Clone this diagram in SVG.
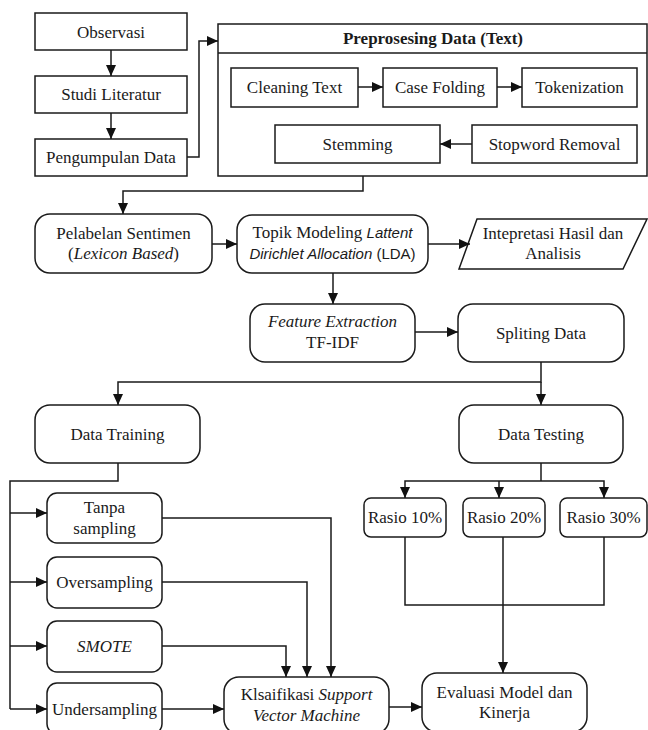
<svg xmlns="http://www.w3.org/2000/svg" width="648" height="730" viewBox="0 0 648 730">
<defs>
<marker id="ah" markerUnits="userSpaceOnUse" markerWidth="12" markerHeight="12" viewBox="0 0 12 12" refX="11" refY="6" orient="auto">
<path d="M0,1 L11,6 L0,11 Z" fill="#111"/>
</marker>
</defs>
<style>
.b{fill:#fff;stroke:#1a1a1a;stroke-width:1.5}
.t{font-family:"Liberation Serif","Times New Roman",serif;font-size:17px;fill:#1a1a1a;text-anchor:middle}
.i{font-style:italic}
.s{font-family:"Liberation Sans",Arial,sans-serif;font-size:15px}
.c{fill:none;stroke:#1a1a1a;stroke-width:1.5}
.a{marker-end:url(#ah)}
</style>
<rect width="648" height="730" fill="#fff"/>
<g id="observasi"><rect class="b" x="35" y="13" width="152" height="37"/><text class="t" x="111" y="37.5">Observasi</text></g>
<g id="studi-literatur"><rect class="b" x="35" y="76" width="152" height="37"/><text class="t" x="111" y="100">Studi Literatur</text></g>
<g id="pengumpulan-data"><rect class="b" x="35" y="139" width="152" height="37"/><text class="t" x="111" y="163">Pengumpulan Data</text></g>
<g id="preprosesing"><rect class="b" x="218" y="24" width="429" height="152"/><line class="c" x1="218" y1="53" x2="647" y2="53"/><text class="t" x="433" y="44" font-weight="bold">Preprosesing Data (Text)</text></g>
<g id="cleaning-text"><rect class="b" x="231" y="68" width="127" height="39"/><text class="t" x="294.5" y="93">Cleaning Text</text></g>
<g id="case-folding"><rect class="b" x="383" y="68" width="114" height="39"/><text class="t" x="440" y="93">Case Folding</text></g>
<g id="tokenization"><rect class="b" x="522" y="68" width="115" height="39"/><text class="t" x="579.5" y="93">Tokenization</text></g>
<g id="stemming"><rect class="b" x="275" y="125" width="165" height="38"/><text class="t" x="357.5" y="149.5">Stemming</text></g>
<g id="stopword-removal"><rect class="b" x="472" y="125" width="165" height="38"/><text class="t" x="554.5" y="149.5">Stopword Removal</text></g>
<g id="pelabelan"><rect class="b" x="35" y="214" width="177" height="59" rx="15"/><text class="t" x="123.5" y="239">Pelabelan Sentimen</text><text class="t" x="123.5" y="259">(<tspan class="i">Lexicon Based</tspan>)</text></g>
<g id="topik-lda"><rect class="b" x="237" y="215" width="191" height="58" rx="15"/><text class="t" x="332.5" y="238">Topik Modeling <tspan class="s i">Lattent</tspan></text><text class="t s" x="332.5" y="259"><tspan class="i">Dirichlet Allocation</tspan> (LDA)</text></g>
<g id="interpretasi"><path class="b" d="M477,219 H647 L623,269 H459 Z"/><text class="t" x="553" y="239">Intepretasi Hasil dan</text><text class="t" x="553" y="259">Analisis</text></g>
<g id="feature-extraction"><rect class="b" x="250" y="304" width="165" height="58" rx="15"/><text class="t i" x="332.5" y="327">Feature Extraction</text><text class="t" x="332.5" y="348">TF-IDF</text></g>
<g id="spliting-data"><rect class="b" x="458" y="304" width="166" height="58" rx="15"/><text class="t" x="541" y="338.5">Spliting Data</text></g>
<g id="data-training"><rect class="b" x="35" y="405" width="165" height="58" rx="15"/><text class="t" x="117.5" y="439.5">Data Training</text></g>
<g id="data-testing"><rect class="b" x="459" y="405" width="164" height="58" rx="15"/><text class="t" x="541" y="439.5">Data Testing</text></g>
<g id="tanpa-sampling"><rect class="b" x="47" y="493" width="115" height="50" rx="10"/><text class="t" x="104.5" y="513">Tanpa</text><text class="t" x="104.5" y="534">sampling</text></g>
<g id="oversampling"><rect class="b" x="47" y="557" width="115" height="51" rx="10"/><text class="t" x="104.5" y="588">Oversampling</text></g>
<g id="smote"><rect class="b" x="47" y="621" width="115" height="51" rx="10"/><text class="t i" x="104.5" y="652">SMOTE</text></g>
<g id="undersampling"><rect class="b" x="47" y="683" width="115" height="51" rx="10"/><text class="t" x="104.5" y="714.5">Undersampling</text></g>
<g id="klasifikasi-svm"><rect class="b" x="224" y="677" width="165" height="57" rx="15"/><text class="t" x="306.5" y="700">Klsaifikasi <tspan class="i">Support</tspan></text><text class="t i" x="306.5" y="721">Vector Machine</text></g>
<g id="evaluasi"><rect class="b" x="422" y="673" width="165" height="59" rx="15"/><text class="t" x="504.5" y="698">Evaluasi Model dan</text><text class="t" x="504.5" y="718">Kinerja</text></g>
<g id="rasio-10"><rect class="b" x="364" y="498" width="82" height="39" rx="7"/><text class="t" x="405" y="523">Rasio 10%</text></g>
<g id="rasio-20"><rect class="b" x="463" y="498" width="82" height="39" rx="7"/><text class="t" x="504" y="523">Rasio 20%</text></g>
<g id="rasio-30"><rect class="b" x="560" y="498" width="87" height="39" rx="7"/><text class="t" x="603.5" y="523">Rasio 30%</text></g>
<g id="connectors">
<path class="c a" d="M111,50 V76"/>
<path class="c a" d="M111,113 V139"/>
<path class="c a" d="M187,157 H199 V41 H218"/>
<path class="c a" d="M358,87 H383"/>
<path class="c a" d="M497,87 H522"/>
<path class="c a" d="M472,144 H440"/>
<path class="c a" d="M363,176 V191 H123 V214"/>
<path class="c a" d="M212,244 H237"/>
<path class="c a" d="M428,244 H470"/>
<path class="c a" d="M333,273 V304"/>
<path class="c a" d="M415,332 H458"/>
<path class="c a" d="M541,362 V382 H118 V405"/>
<path class="c a" d="M541,382 V405"/>
<path class="c" d="M118,463 V481 H10 V709"/>
<path class="c a" d="M10,513 H47"/>
<path class="c a" d="M10,582 H47"/>
<path class="c a" d="M10,646 H47"/>
<path class="c a" d="M10,709 H47"/>
<path class="c a" d="M162,518 H331 V677"/>
<path class="c a" d="M162,582 H307 V677"/>
<path class="c a" d="M162,646 H286 V677"/>
<path class="c a" d="M162,709 H224"/>
<path class="c a" d="M389,707 H422"/>
<path class="c" d="M541,463 V481"/>
<path class="c a" d="M541,481 H405 V498"/>
<path class="c a" d="M541,481 H604 V498"/>
<path class="c a" d="M499,481 V498"/>
<path class="c" d="M405,537 V605 H604 V537"/>
<path class="c a" d="M503,537 V673"/>
</g>
</svg>
